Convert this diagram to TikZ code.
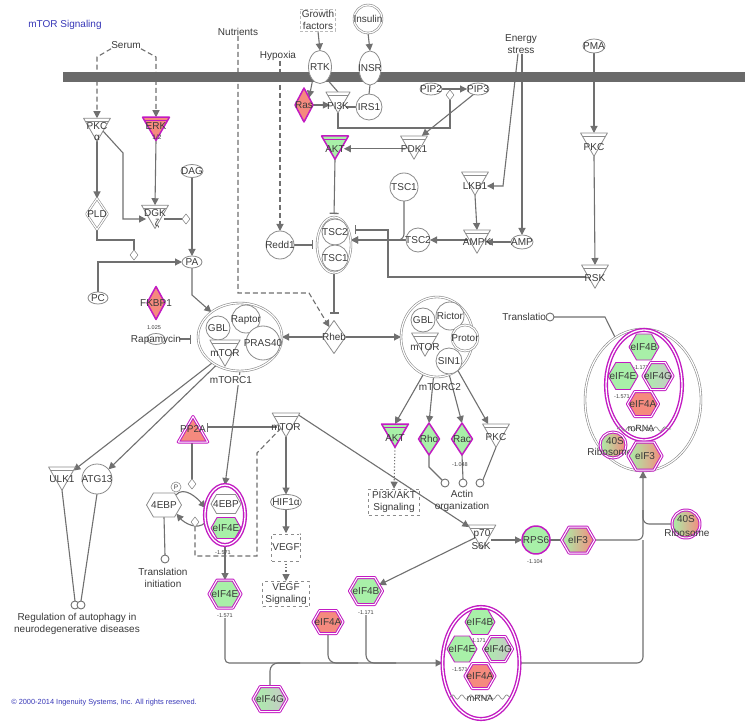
\documentclass[tikz,border=0pt]{standalone}
\usepackage{fontspec}
\setmainfont{Liberation Sans}
\usetikzlibrary{shapes.geometric,shapes.symbols,arrows.meta,decorations.pathmorphing,calc}
\pgfdeclarelayer{bg}
\pgfdeclarelayer{mem}
\pgfsetlayers{bg,mem,main}
\definecolor{lc}{HTML}{707070}
\definecolor{sg}{HTML}{8C8C8C}
\definecolor{tx}{HTML}{3A3A3A}
\definecolor{mag}{HTML}{C21BC2}
\definecolor{salm}{HTML}{F58A7E}
\definecolor{grn}{HTML}{A8F0A8}
\definecolor{blu}{HTML}{3838B8}
\definecolor{memc}{HTML}{6A6A6A}
\definecolor{gry}{HTML}{C8C8C8}
\newcommand{\zt}[2][0pt]{\smash{\makebox[0pt]{\raisebox{\dimexpr-3.5pt-#1\relax}{#2}}}}
\begin{document}
\begin{tikzpicture}[x=1pt,y=-1pt,
  every node/.style={text=tx},
  font=\fontsize{10}{12}\selectfont,
  line join=round,
  sh/.style={draw=sg, line width=0.8pt, fill=white, inner sep=0pt, outer sep=0pt},
  mg/.style={draw=mag, line width=1.5pt},
  mgt/.style={draw=mag, line width=0.9pt},
  mgd/.style={draw=mag, line width=1pt, double=white, double distance=1pt},
  mgb/.style={draw=mag, line width=1.4pt, double=white, double distance=1.3pt},
  gd/.style={draw=sg, line width=0.6pt, double=white, double distance=1.2pt},
  kin/.style={sh, regular polygon, regular polygon sides=3, regular polygon rotate=180, minimum size=31pt,
     path picture={\draw[line width=0.8pt, draw=#1] ([yshift=-3pt]path picture bounding box.north west) -- ([yshift=-3pt]path picture bounding box.north east);}},
  kin/.default=sg,
  circ/.style={sh, circle},
  ell/.style={sh, ellipse},
  dia/.style={sh, diamond},
  hex/.style={sh, signal, signal to=east and west, signal pointer angle=120},
  jd/.style={sh, diamond, minimum width=8pt, minimum height=10pt, line width=0.6pt},
  dotc/.style={sh, circle, minimum size=8pt, line width=0.9pt, draw=lc},
  lbl/.style={inner sep=0pt, align=center},
  val/.style={inner sep=0pt, font=\fontsize{5.5}{6}\selectfont},
  con/.style={draw=lc, line width=1.1pt},
  tip/.style={-{Triangle[length=7pt,width=7pt]}},
  arr/.style={con, tip},
  inh/.style={con, -{Bar[width=9pt,line width=1.3pt]}},
  dsh/.style={con, dash pattern=on 5pt off 3pt},
  dtd/.style={con, dash pattern=on 1.2pt off 2pt}
]
\useasboundingbox (0,0) rectangle (750,722);

\begin{pgfonlayer}{mem}
\fill[memc] (63,72) rectangle (745,82);
\end{pgfonlayer}

% titles
\node[lbl, text=blu] (title) at (65,25) {mTOR Signaling};
\node[lbl, text=blu, font=\fontsize{7.4}{8}\selectfont] (copy) at (104,703) {© 2000-2014 Ingenuity Systems, Inc. All rights reserved.};

% top labels
\node[lbl] (serum) at (126,45) {Serum};
\node[lbl] (nutr) at (238,32) {Nutrients};
\node[lbl] (hyp) at (278,56) {Hypoxia};
\node[lbl] (es) at (521,44) {Energy\\stress};
\node[lbl, draw=sg!60, densely dashed, line width=0.5pt, inner sep=1.5pt] (gf) at (318,20) {Growth\\factors};

% receptor area
\node[circ, gd, minimum size=28pt] (ins) at (368,19) {\zt{Insulin}};
\node[ell, minimum width=23pt, minimum height=33pt] (rtk) at (320,67) {\zt{RTK}};
\node[ell, minimum width=22pt, minimum height=34pt] (insr) at (370,68) {\zt{INSR}};
\node[circ, minimum size=26pt] (irs1) at (369,107) {\zt{IRS1}};
\node[kin, minimum size=28pt] (pi3k) at (338,99) {\zt[7pt]{PI3K}};
\node[dia, mg, fill=salm, minimum width=18pt, minimum height=34pt] (ras) at (304,105) {\zt{Ras}};
\node[ell, minimum width=22pt, minimum height=12pt] (pip2) at (431,89) {\zt{PIP2}};
\node[ell, minimum width=22pt, minimum height=12pt] (pip3) at (478,89) {\zt{PIP3}};
\node[jd] (dmd5) at (450,95) {};
\node[kin=mag, mg, fill=grn] (akt) at (335,143.75) {\zt[5pt]{AKT}};
\node[kin] (pdk1) at (414,143.75) {\zt[5pt]{PDK1}};

% TSC
\node[ell, gd, minimum width=34pt, minimum height=56pt] (tsc) at (334,245) {};
\node[circ, minimum size=26pt] (tsc2) at (335,232) {\zt{TSC2}};
\node[circ, minimum size=26pt] (tsc1) at (335,258) {\zt{TSC1}};
\node[circ, minimum size=28pt] (redd1) at (280,245) {\zt{Redd1}};
\node[circ, minimum size=28pt] (tsc1a) at (404,187) {\zt{TSC1}};
\node[circ, minimum size=24pt] (tsc2a) at (418,240) {\zt{TSC2}};
\node[kin] (lkb1) at (475,179.75) {\zt[6pt]{LKB1}};
\node[kin] (ampk) at (477,237.75) {\zt[4pt]{AMPK}};
\node[ell, minimum width=22pt, minimum height=14pt] (amp) at (522,242) {\zt{AMP}};
\node[ell, minimum width=22pt, minimum height=14pt] (pma) at (594,46) {\zt{PMA}};
\node[kin] (pkcr) at (594,140.75) {\zt[6pt]{PKC}};
\node[kin] (rsk) at (595,272.75) {\zt[5pt]{RSK}};

% left column
\node[kin] (pkca) at (97,126) {\zt{PKC}};
\node[lbl] (pkcal) at (97,138) {α};
\node[kin=mag, mg, fill=salm] (erk) at (156,125) {\zt[1pt]{ERK}};
\node[lbl, font=\fontsize{6.5}{7}\selectfont] (erkl) at (157,137) {1/2};
\node[kin] (dgk) at (155,213) {\zt{DGK}};
\node[lbl] (dgkl) at (157,224) {ζ};
\node[dia, gd, minimum width=21pt, minimum height=31pt] (pld) at (97,214) {\zt{PLD}};
\node[ell, minimum width=22pt, minimum height=13pt] (dag) at (192,171) {\zt{DAG}};
\node[ell, minimum width=20pt, minimum height=12pt] (pa) at (192,262) {\zt{PA}};
\node[ell, minimum width=20pt, minimum height=12pt] (pc) at (98,298) {\zt{PC}};
\node[jd] (dmd1) at (186,219) {};
\node[jd] (dmd2) at (134,255) {};
\node[dia, mg, fill=salm, minimum width=18pt, minimum height=33pt] (fkbp) at (156,303) {\zt{FKBP1}};
\node[val] (vfk) at (154,328) {1.025};
\node[ell, minimum width=18pt, minimum height=11pt] (rapa) at (156,339) {\zt{Rapamycin}};

% mTORC1
\node[ell, gd, minimum width=84pt, minimum height=68pt] (mtorc1) at (240,337) {};
\node[circ, minimum size=24pt] (gbl1) at (218,328) {\zt{GBL}};
\node[circ, minimum size=28pt] (raptor) at (246,319) {\zt{Raptor}};
\node[circ, minimum size=34pt] (pras) at (263,343) {\zt{PRAS40}};
\node[kin, minimum size=35pt] (mtor1) at (225,348.75) {\zt[4pt]{mTOR}};
\node[lbl, fill=white, inner sep=1pt] (mtorc1l) at (231,380) {mTORC1};
\node[dia, minimum width=23pt, minimum height=33pt] (rheb) at (334,337) {\zt{Rheb}};

% mTORC2
\node[ell, gd, minimum width=72pt, minimum height=80pt] (mtorc2) at (437,337) {};
\node[circ, minimum size=24pt] (gbl2) at (423,320) {\zt{GBL}};
\node[circ, minimum size=28pt] (rictor) at (450,316) {\zt{Rictor}};
\node[circ, gd, minimum size=26pt] (protor) at (465,338) {\zt{Protor}};
\node[circ, minimum size=26pt] (sin1) at (449,361) {\zt{SIN1}};
\node[kin] (mtor2) at (425,340.75) {\zt[6pt]{mTOR}};
\node[lbl] (mtorc2l) at (440,387) {mTORC2};

\node[kin=mag, mg, fill=grn] (aktl) at (395,431.75) {\zt[6pt]{AKT}};
\node[dia, mg, fill=grn, minimum width=21pt, minimum height=32pt] (rho) at (429,439) {\zt{Rho}};
\node[dia, mg, fill=grn, minimum width=21pt, minimum height=32pt] (rac) at (462,439) {\zt{Rac}};
\node[val] (vrac) at (460,465) {-1.048};
\node[kin] (pkcl) at (496,431.75) {\zt[5pt]{PKC}};
\node[dotc] (c1) at (445,483) {};
\node[dotc] (c2) at (463,483) {};
\node[dotc] (c3) at (480,483) {};
\node[lbl] (actin) at (462,501) {Actin\\organization};
\node[lbl, draw=sg, dashed, line width=0.6pt, minimum width=51pt, minimum height=26pt] (pi3ks) at (394,502) {PI3K/AKT\\Signaling};

% mTOR middle
\node[kin, minimum size=32pt] (mtorm) at (286,421) {\zt[6pt]{mTOR}};
\node[sh, regular polygon, regular polygon sides=3, minimum size=34pt, mgd, fill=salm] (pp2a) at (193,433.5) {\zt[-5pt]{PP2A}};
\node[kin] (ulk1) at (62,474.75) {\zt[4pt]{ULK1}};
\node[circ, minimum size=30pt] (atg13) at (97,479) {\zt{ATG13}};
\node[dotc] (reg1) at (75,605) {};
\node[dotc] (reg2) at (81,605) {};
\node[lbl] (regt) at (77,624) {Regulation of autophagy in\\neurodegenerative diseases};

% 4EBP complex
\node[ell, mgb, minimum width=40pt, minimum height=60pt] (cpx1) at (225,515) {};
\node[hex, minimum width=30pt, minimum height=19pt] (ebpc) at (226,504) {\zt{4EBP}};
\node[hex, mgt, fill=grn, minimum width=30pt, minimum height=21pt] (eif4ec) at (226,528) {\zt{eIF4E}};
\node[val] (vc1) at (223,553) {-1.571};
\node[hex, minimum width=35pt, minimum height=24pt] (ebp) at (164,505) {\zt{4EBP}};
\node[circ, minimum size=10pt, line width=0.6pt] (pcirc) at (176,487) {\zt[-1.5pt]{\fontsize{6.5}{7}\selectfont P}};
\node[jd] (dmd3) at (192,484) {};
\node[jd] (dmd4) at (195,522) {};
\node[dotc] (ti) at (165,559) {};
\node[lbl] (tit) at (163,578) {Translation\\initiation};
\node[hex, mgd, fill=grn, minimum width=32pt, minimum height=28pt] (eif4el) at (225,594) {\zt{eIF4E}};
\node[val] (v4el) at (225,616) {-1.571};

\node[ell, minimum width=31pt, minimum height=15pt] (hif) at (286,502) {\zt{HIF1α}};
\node[lbl, draw=sg, dashed, double, double distance=1pt, line width=0.5pt, minimum width=27pt, minimum height=27pt] (vegf) at (286,547) {VEGF};
\node[lbl, draw=sg, dashed, line width=0.6pt, minimum width=47pt, minimum height=25pt] (vegfs) at (286,594) {VEGF\\Signaling};

% p70 row
\node[kin, minimum size=32pt] (p70) at (482,533) {\zt{p70}};
\node[lbl] (p70b) at (481,546) {S6K};
\node[circ, mg, fill=grn, minimum size=28pt] (rps6) at (536,540) {\zt{RPS6}};
\node[val] (vrps6) at (535,562) {-1.104};
\node[hex, mgd, left color=grn, right color=salm, minimum width=33pt, minimum height=26pt] (eif3) at (578,540) {\zt{eIF3}};
\node[circ, mgd, left color=grn, right color=salm, minimum size=28pt] (r40) at (686,524) {};
\node[lbl] (r40a) at (686,519) {40S};
\node[lbl] (r40b) at (687,533) {Ribosome};
\node[lbl] (trt) at (527,317) {Translation};
\node[dotc] (trc) at (550,317) {};

% upper complex
\node[ell, gd, minimum width=116pt, minimum height=142pt] (outer) at (643,400) {};
\node[ell, mgb, minimum width=76pt, minimum height=110pt] (innr) at (644,385) {};
\node[val] (vu) at (622,397) {-1.571};
\node[val] (vu2) at (641,368) {-1.171};
\node[hex, mgt, fill=grn, minimum width=30pt, minimum height=26pt] (eif4bu) at (644,347) {\zt{eIF4B}};
\node[hex, mgt, fill=grn, minimum width=30pt, minimum height=27pt] (eif4eu) at (623,376) {\zt{eIF4E}};
\node[hex, mgd, left color=grn, right color=gry, minimum width=30pt, minimum height=27pt] (eif4gu) at (658,376) {\zt{eIF4G}};
\node[hex, mgd, fill=salm, minimum width=31pt, minimum height=25pt] (eif4au) at (643,404) {\zt{eIF4A}};
\draw[sg, line width=0.7pt, decorate, decoration={snake, amplitude=2.2pt, segment length=9pt}] (617,429) -- (671,429);
\node[lbl, font=\fontsize{9}{10}\selectfont] (mrnau) at (641,428) {mRNA};
\node[circ, mgd, left color=grn, right color=salm, minimum size=26pt] (r40i) at (613,445) {};
\node[lbl] (r40ia) at (615,441) {40S};
\node[lbl] (r40ib) at (610,452) {Ribosome};
\node[hex, mgd, left color=grn, right color=salm, minimum width=34pt, minimum height=28pt] (eif3u) at (645,456) {\zt{eIF3}};

% lower complex
\node[ell, mgb, minimum width=77pt, minimum height=112pt] (cpx2) at (481,663) {};
\node[val] (vl2) at (478,641) {-1.171};
\node[val] (vl) at (460,670) {-1.571};
\node[hex, mgt, fill=grn, minimum width=30pt, minimum height=25pt] (eif4bl) at (480,622) {\zt{eIF4B}};
\node[hex, mgt, fill=grn, minimum width=30pt, minimum height=26pt] (eif4ex) at (462,649) {\zt{eIF4E}};
\node[hex, mgd, left color=grn, right color=gry, minimum width=29pt, minimum height=25pt] (eif4gl) at (498,649) {\zt{eIF4G}};
\node[hex, mgd, fill=salm, minimum width=30pt, minimum height=25pt] (eif4al) at (480,676) {\zt{eIF4A}};
\draw[sg, line width=0.7pt, decorate, decoration={snake, amplitude=2.2pt, segment length=9pt}] (450,697) -- (510,697);
\node[lbl, font=\fontsize{9}{10}\selectfont] (mrnal) at (480,698) {mRNA};

% standalone eIFs
\node[hex, mgd, fill=grn, minimum width=33pt, minimum height=27pt] (eif4bs) at (366,591) {\zt{eIF4B}};
\node[val] (v4bs) at (366,613) {-1.171};
\node[hex, mgd, fill=salm, minimum width=30pt, minimum height=23pt] (eif4as) at (328,622) {\zt{eIF4A}};
\node[hex, mgd, left color=grn, right color=gry, minimum width=34pt, minimum height=25pt] (eif4gs) at (270,699) {\zt{eIF4G}};

% ---------------- connectors -----------------
\begin{pgfonlayer}{bg}
\fill[white] (0,0) rectangle (750,722);
\coordinate (sL) at (97,57);
\coordinate (sR) at (156,57);
\draw[dsh,tip] (serum.south west) -- (sL) -- (pkca.north);
\draw[dsh,tip] (serum.south east) -- (sR) -- (erk.north);
\draw[arr] (pkca.south) -- (pld.north);
\coordinate (j1) at (123,153);
\coordinate (j2) at (123,219);
\draw[arr] (pkca.-40) -- (j1) -- (j2) -- (dgk.west |- j2);
\draw[arr] (erk.south) -- (dgk.north);
\draw[con] (dgk.east |- dmd1) -- (dmd1.west);
\draw[arr] (dag.south) -- (pa.north);
\coordinate (j3) at (97,240);
\coordinate (j4) at (134,240);
\draw[con] (pld.south) -- (j3) -- (j4) -- (dmd2.north);
\draw[arr] (pc.north) -- (pc.north |- pa.west) -- (pa.west);
\coordinate (j5) at (192,295);
\draw[arr] (pa.south) -- (j5) -- (mtorc1.139);
\draw[inh, shorten >=7pt] ([xshift=24pt]rapa.center) -- (mtorc1.west |- rapa.center);
\draw[arr] (mtorc1.223) -- (ulk1.20);
\draw[arr] (mtorc1.230) -- (atg13.40);
\draw[con] (ulk1.south) -- (reg1.north);
\draw[con] (atg13.south) -- (reg2.north);
\draw[arr] (mtorc1.south) -- (cpx1.north);
\draw[inh] ([yshift=-6pt]mtorm.west) -- ([yshift=6.5pt,xshift=4pt]pp2a.east);
\draw[con] (dmd3.north |- pp2a.south) -- (dmd3.north);
\draw[arr] (ebp.40) to[out=50,in=130] (cpx1.160);
\draw[arr] (cpx1.200) to[out=230,in=-50] (ebp.-35);
\coordinate (j6) at (257,453);
\coordinate (j7) at (257,556);
\coordinate (j8) at (195,556);
\draw[dsh] (mtorm.-125) -- (j6) -- (j7) -- (j8) -- (dmd4.south);
\draw[con] (ebp.south) -- (ti.north);
\draw[arr] (cpx1.south) -- (eif4el.north);
\draw[arr, rounded corners=4pt] (v4el.south) -- (v4el.south |- cpx2.west) -- (cpx2.west);
\draw[con, rounded corners=8pt] (eif4as.south) -- (eif4as.south |- cpx2.west) -- ++(30,0);
\draw[con, rounded corners=8pt] (v4bs.south) -- (v4bs.south |- cpx2.west) -- ++(30,0);
\draw[con, rounded corners=8pt] (eif4gs.north) -- (eif4gs.north |- cpx2.west) -- ++(30,0);
\draw[arr] (mtorm.south) -- (hif.north);
\draw[arr] (hif.south) -- (vegf.north);
\draw[dtd,tip] (vegf.south) -- (vegfs.north);
\draw[arr] (mtorm.25) -- (p70.155);
\draw[arr] (p70.east |- rps6.west) -- (rps6.west);
\draw[arr] (p70.215) -- (eif4bs.25);
\draw[con] (rps6.east) -- (eif3.west);
\draw[arr, rounded corners=6pt] (eif3.east) -- (outer.south |- eif3.east) -- (outer.south);
\draw[con, rounded corners=6pt] (cpx2.east) -- (cpx2.east -| outer.south) -- (outer.south |- eif3.east);
\coordinate (b40) at (643,510);
\draw[con, rounded corners=6pt] (b40) -- (b40 |- r40.west) -- (r40.west);
\coordinate (tj) at (605,317);
\draw[con] (trc.east) -- (tj) -- (outer.114);
\draw[arr] (mtorc2.250) -- (aktl.north);
\draw[arr] (mtorc2.265) -- (rho.north);
\draw[arr] (mtorc2.288) -- (rac.north);
\draw[arr] (mtorc2.302) -- (pkcl.135);
\draw[con] (rho.south) -- ++(0,12) -- (c1.135);
\draw[con] (rac.south) -- (c2.north);
\draw[con] (pkcl.south) -- (c3.45);
\draw[dtd,tip] (aktl.south) -- (pi3ks.north);
\draw[arr] (rheb.west) -- (mtorc1.east);
\draw[arr] (rheb.east) -- (mtorc2.west);
\coordinate (nb) at (309,293);
\draw[dsh,tip] (nutr.south) -- (nutr.south |- nb) -- (nb) -- (rheb.115);
\draw[dsh,tip] (redd1.north |- hyp.south) -- (redd1.north);
\draw[inh, shorten >=4pt] (redd1.east) -- (tsc.west);
\draw[inh, shorten >=7pt] (tsc.south) -- (rheb.north);
\draw[inh, shorten >=3pt] (akt.south) -- (tsc.north);
\draw[arr] ([yshift=-5pt]pdk1.west) -- ([yshift=-5pt]akt.east);
\draw[arr] (pip3.230) -- (pdk1.45);
\draw[arr] (pip2.east) -- (pip3.west);
\coordinate (pj) at (450,128);
\draw[con] (pi3k.south) -- (pi3k.south |- pj) -- (pj) -- (dmd5.south);
\draw[arr] (rtk.240) -- (ras.55);
\draw[con] (rtk.300) -- (pi3k.north);
\draw[arr] (ras.east) -- (pi3k.west |- ras.east);
\draw[con] (irs1.west) -- (pi3k.east |- irs1.west);
\draw[arr] (ins.south) -- (insr.north);
\draw[arr] (gf.south) -- (rtk.north);
\draw[con] (insr.south) -- (irs1.north);
\draw[arr, rounded corners=6pt] (tsc1a.south) -- (tsc1a.south |- tsc2a.west) -- (tsc.east |- tsc2a.west);
\draw[arr] (tsc2a.west) -- (tsc.east |- tsc2a.west);
\draw[arr] (ampk.west |- tsc2a.east) -- (tsc2a.east);
\draw[arr] (amp.west) -- (ampk.east |- amp.west);
\draw[arr] (lkb1.south) -- (ampk.north);
\coordinate (ej) at (503,186);
\draw[arr] ([xshift=-3pt]es.south) -- (ej) -- ([xshift=3pt]lkb1.east |- ej);
\draw[arr] ([xshift=1pt]es.south) -- (amp.north);
\draw[arr] (pma.south) -- (pkcr.north);
\draw[arr] (pkcr.south) -- (rsk.north);
\coordinate (rj1) at (388,277);
\coordinate (rj2) at (388,230);
\draw[inh, shorten >=4pt] (rsk.west |- rj1) -- (rj1) -- (rj2) -- (tsc.east |- rj2);
\end{pgfonlayer}
\end{tikzpicture}
\end{document}
